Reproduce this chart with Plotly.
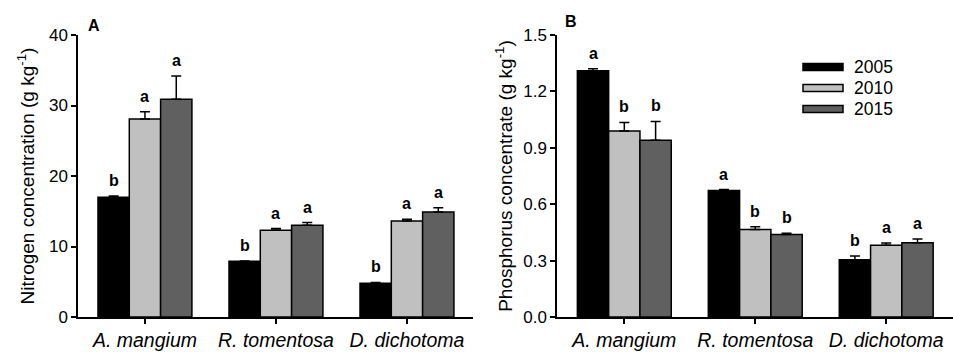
import plotly.graph_objects as go

species = ["A. mangium", "R. tomentosa", "D. dichotoma"]
years = ["2005", "2010", "2015"]
colors = ["#000000", "#c0c0c0", "#606060"]

n_vals = {
    "2005": [17.0, 7.9, 4.8],
    "2010": [28.1, 12.3, 13.6],
    "2015": [30.9, 13.0, 14.9],
}
n_err = {
    "2005": [0.15, 0.05, 0.1],
    "2010": [1.0, 0.25, 0.25],
    "2015": [3.3, 0.4, 0.6],
}
n_letters = {
    "2005": ["b", "b", "b"],
    "2010": ["a", "a", "a"],
    "2015": ["a", "a", "a"],
}

p_vals = {
    "2005": [1.31, 0.673, 0.304],
    "2010": [0.99, 0.465, 0.382],
    "2015": [0.94, 0.439, 0.395],
}
p_err = {
    "2005": [0.01, 0.005, 0.02],
    "2010": [0.045, 0.015, 0.012],
    "2015": [0.10, 0.006, 0.02],
}
p_letters = {
    "2005": ["a", "a", "b"],
    "2010": ["b", "b", "a"],
    "2015": ["b", "b", "a"],
}

FONT = "Arial, Liberation Sans, sans-serif"
W, H = 953, 353
xs = [0, 1, 2]
bargap = 0.283
bw = (1 - bargap) / 3

fig = go.Figure()
annotations = []

for panel, (vals, errs, letters, xa, ya) in enumerate([
    (n_vals, n_err, n_letters, "x", "y"),
    (p_vals, p_err, p_letters, "x2", "y2"),
]):
    for j, yr in enumerate(years):
        fig.add_trace(go.Bar(
            x=xs, y=vals[yr], name=yr, xaxis=xa, yaxis=ya,
            marker=dict(color=colors[j], line=dict(color="black", width=1.5)),
            error_y=dict(type="data", array=errs[yr], arrayminus=[0] * 3,
                         symmetric=False, color="black", thickness=1.5, width=5),
            showlegend=False,
        ))
        for i in range(3):
            annotations.append(dict(
                x=xs[i] + (j - 1) * bw, y=vals[yr][i] + errs[yr][i],
                xref=xa, yref=ya, text="<b>%s</b>" % letters[yr][i],
                showarrow=False, yanchor="bottom", yshift=5,
                font=dict(family=FONT, size=16, color="black"),
            ))

# panel labels
annotations.append(dict(x=86 / W, y=1 - 25 / H, xref="paper", yref="paper", text="<b>A</b>",
                        showarrow=False, xanchor="left", yanchor="middle",
                        font=dict(family=FONT, size=16, color="black")))
annotations.append(dict(x=563 / W, y=1 - 22 / H, xref="paper", yref="paper", text="<b>B</b>",
                        showarrow=False, xanchor="left", yanchor="middle",
                        font=dict(family=FONT, size=16, color="black")))

# legend (drawn)
shapes = []
leg_rows = [67, 88, 109]
for j, yr in enumerate(years):
    yc = leg_rows[j]
    shapes.append(dict(type="rect", xref="paper", yref="paper",
                       x0=803 / W, x1=843 / W, y0=1 - (yc + 3.5) / H, y1=1 - (yc - 3.5) / H,
                       fillcolor=colors[j], line=dict(color="black", width=1.5)))
    annotations.append(dict(x=852 / W, y=1 - yc / H, xref="paper", yref="paper", text=yr,
                            showarrow=False, xanchor="left", yanchor="middle",
                            font=dict(family=FONT, size=17.5, color="black")))

ydom = [1 - 317 / H, 1 - 35 / H]
xaxis_common = dict(
    tickvals=xs, ticktext=["<i>%s</i>" % s for s in species],
    showline=True, linecolor="black", linewidth=1.5,
    ticks="outside", ticklen=5, tickwidth=1.5, tickcolor="black",
    tickfont=dict(family=FONT, size=19.5, color="black"),
    showgrid=False, zeroline=False,
)
yaxis_common = dict(
    showline=True, linecolor="black", linewidth=1.5,
    ticks="outside", ticklen=5, tickwidth=1.5, tickcolor="black",
    tickfont=dict(family=FONT, size=17, color="black"),
    showgrid=False, zeroline=False, domain=ydom,
)

fig.update_layout(
    width=W, height=H, margin=dict(l=0, r=0, t=0, b=0, autoexpand=False),
    paper_bgcolor="white", plot_bgcolor="white",
    barmode="group", bargap=bargap, bargroupgap=0,
    font=dict(family=FONT, color="black"),
    xaxis=dict(domain=[78 / W, 473 / W], range=[-0.511, 2.504], anchor="y", **xaxis_common),
    yaxis=dict(range=[0, 40], tickvals=[0, 10, 20, 30, 40], anchor="x",
               title=dict(text="Nitrogen concentration (g kg<sup>-1</sup>)", standoff=9,
                          font=dict(family=FONT, size=19, color="black")),
               **yaxis_common),
    xaxis2=dict(domain=[557 / W, 953 / W], range=[-0.514, 2.51], anchor="y2", **xaxis_common),
    yaxis2=dict(range=[0, 1.5], tickvals=[0, 0.3, 0.6, 0.9, 1.2, 1.5],
                ticktext=["0.0", "0.3", "0.6", "0.9", "1.2", "1.5"], anchor="x2",
                title=dict(text="Phosphorus concentrate (g kg<sup>-1</sup>)", standoff=6,
                           font=dict(family=FONT, size=19, color="black")),
                **yaxis_common),
    annotations=annotations, shapes=shapes,
)

fig.write_html(
    "out.html",
    config={"displayModeBar": False},
    post_script="document.body.style.margin='0px';document.body.style.padding='0px';document.body.style.overflow='hidden';",
)
